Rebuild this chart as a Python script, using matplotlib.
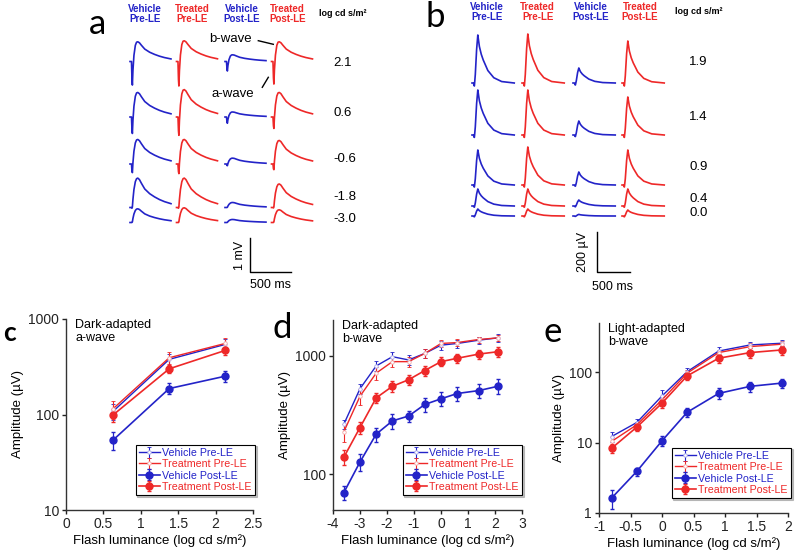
import matplotlib.pyplot as plt
import numpy as np
from matplotlib.ticker import NullLocator

plt.rcParams['font.family'] = ['Liberation Sans', 'DejaVu Sans']

BLUE = '#2323c8'
RED = '#ee2828'

# ---------------- ERG traces (panels a and b) ----------------
groups = ['Vehicle\nPre-LE', 'Treated\nPre-LE', 'Vehicle\nPost-LE', 'Treated\nPost-LE']
group_colors = [BLUE, RED, BLUE, RED]

# panel a, dark-adapted: flash strengths, b-wave peak and a-wave trough (uV) per trace
a_flash = ['2.1', '0.6', '-0.6', '-1.8', '-3.0']
a_peak = [[590, 620, 200, 590],
          [735, 820, 150, 735],
          [735, 735, 175, 705],
          [880, 880, 150, 705],
          [410, 440, 90, 380]]
a_trough = [[735, 765, 295, 705],
            [530, 590, 195, 380],
            [295, 325, 60, 205],
            [30, 30, 0, 20],
            [0, 0, 0, 0]]
# normalised waveform (ms)
a_t = [0, 18, 24, 29, 36, 48, 65, 80, 95, 115, 140, 180, 240, 300, 360, 420, 500]
a_awave = [0, 0, -0.7, -1.0, -0.6, -0.25, -0.05, 0, 0, 0, 0, 0, 0, 0, 0, 0, 0]
a_bwave = [0, 0, 0, 0.05, 0.3, 0.62, 0.88, 0.98, 1.0, 0.95, 0.82, 0.63, 0.47, 0.36, 0.27, 0.2, 0.13]

# panel b, light-adapted
b_flash = ['1.9', '1.4', '0.9', '0.4', '0.0']
b_peak = [[240, 245, 75, 210],
          [225, 225, 70, 190],
          [175, 190, 65, 175],
          [85, 85, 30, 85],
          [35, 35, 8, 30]]
b_trough = [[15, 15, 10, 15],
            [12, 12, 8, 12],
            [10, 10, 6, 10],
            [6, 6, 4, 6],
            [4, 4, 2, 4]]
b_t = [0, 22, 30, 36, 50, 70, 88, 98, 112, 140, 170, 240, 330, 450, 640]
b_awave = [0, 0, -0.8, -1.0, -0.4, 0, 0, 0, 0, 0, 0, 0, 0, 0, 0]
b_bwave = [0, 0, 0, 0, 0.2, 0.7, 1.0, 0.9, 0.76, 0.6, 0.48, 0.26, 0.11, 0.03, 0.0]

# ---------------- intensity-response data (panels c, d, e) ----------------
series = ['Vehicle Pre-LE', 'Treatment Pre-LE', 'Vehicle Post-LE', 'Treatment Post-LE']
series_colors = [BLUE, RED, BLUE, RED]
pre_marker_colors = ['#a8a8ee', '#f4a8a8']

c_x = [0.63, 1.38, 2.13]
c_y = [[108, 378, 542], [115, 393, 555], [54, 187, 252], [99, 301, 469]]
c_err = [[20, 55, 80], [25, 55, 70], [11, 25, 35], [16, 30, 45]]

d_x = [-3.6, -3.0, -2.4, -1.8, -1.2, -0.6, 0, 0.6, 1.4, 2.1]
d_y = [[264, 527, 820, 981, 921, 1045, 1227, 1268, 1352, 1413],
       [228, 455, 713, 891, 891, 1045, 1268, 1291, 1370, 1413],
       [70, 127, 218, 282, 310, 388, 433, 480, 508, 552],
       [139, 248, 441, 552, 627, 750, 891, 951, 1032, 1080]]
d_err = [[25, 50, 80, 90, 90, 90, 100, 100, 90, 100],
         [40, 70, 90, 90, 90, 90, 90, 90, 80, 90],
         [9, 20, 30, 40, 35, 50, 60, 65, 70, 80],
         [20, 30, 45, 55, 60, 70, 80, 90, 90, 100]]

e_x = [-0.8, -0.4, 0, 0.4, 0.9, 1.4, 1.9]
e_y = [[12.2, 19.3, 46, 102, 200, 244, 258],
       [10.4, 17.9, 40.5, 97, 190, 231, 250],
       [1.63, 3.9, 10.6, 27, 50, 63, 70],
       [8.3, 16.6, 36.3, 88.7, 158, 190, 207]]
e_err = [[2, 2.5, 10, 12, 25, 25, 25],
         [1.5, 2, 6, 10, 20, 25, 25],
         [0.5, 0.5, 1.7, 4, 9, 10, 11],
         [1.2, 2, 5, 12, 25, 30, 30]]

fig = plt.figure(figsize=(7.98, 5.53), dpi=100)

# overlay in pixel coordinates for the trace panels and labels
top = fig.add_axes([0, 0, 1, 1])
top.set_xlim(0, 798)
top.set_ylim(553, 0)
top.axis('off')
top.patch.set_visible(False)


def draw_traces(t, sa, sb, troughs, peaks, x0s, y0s, ms_px, uv_px):
    t = np.asarray(t, float)
    sa = np.asarray(sa, float)
    sb = np.asarray(sb, float)
    for r in range(len(y0s)):
        for c in range(4):
            v = troughs[r][c] * sa + peaks[r][c] * sb
            top.plot(x0s[c] + t / ms_px, y0s[r] - v / uv_px,
                     color=group_colors[c], lw=1.2, solid_joinstyle='round')


def headers(xs, y, xlog):
    for x, g, col in zip(xs, groups, group_colors):
        top.text(x, y, g, color=col, fontsize=7, fontweight='bold',
                 ha='center', va='center', linespacing=1.05)
    top.text(xlog, y, 'log cd s/m²', fontsize=6.5, fontweight='bold', ha='center', va='center')


# panel a
a_ms_px, a_uv_px = 12.2, 1000 / 33.4
draw_traces(a_t, a_awave, a_bwave, a_trough, a_peak,
            [130, 176.5, 225, 271.5], [61.5, 117, 164, 207.5, 222.5], a_ms_px, a_uv_px)
headers([145, 192, 241.5, 287.5], 14, 343)
for y, lab in zip([62.7, 113.3, 159.3, 196.7, 219], a_flash):
    top.text(333, y, lab, fontsize=9.5, ha='left', va='center')
top.text(230, 39.5, 'b-wave', fontsize=9.5, ha='center', va='center')
top.plot([258.3, 273.3], [40.7, 44.3], color='k', lw=1)
top.text(233, 94, 'a-wave', fontsize=9.5, ha='center', va='center')
top.plot([262.3, 268.3], [87.3, 77.3], color='k', lw=1)
top.plot([250, 250, 250 + 500 / a_ms_px], [271.7 - 1000 / a_uv_px, 271.7, 271.7], color='k', lw=1)
top.text(240, 255, '1 mV', fontsize=9, rotation=90, ha='center', va='center')
top.text(270.5, 284.5, '500 ms', fontsize=9, ha='center', va='center')
top.text(97, 24, 'a', fontsize=25, family=['Lato', 'DejaVu Sans'], ha='center', va='center')

# panel b
b_ms_px, b_uv_px = 15.15, 5.0
draw_traces(b_t, b_awave, b_bwave, b_trough, b_peak,
            [472, 522, 573, 622], [83, 135, 185, 206, 216], b_ms_px, b_uv_px)
headers([487.3, 537.7, 590.7, 640], 12, 698.3)
for y, lab in zip([62.3, 117.3, 166.7, 198.7, 213.3], b_flash):
    top.text(689.3, y, lab, fontsize=9.5, ha='left', va='center')
top.plot([596.7, 596.7, 596.7 + 500 / b_ms_px], [271.7 - 200 / b_uv_px, 271.7, 271.7], color='k', lw=1)
top.text(583, 251.7, '200 µV', fontsize=9, rotation=90, ha='center', va='center')
top.text(613, 287, '500 ms', fontsize=9, ha='center', va='center')
top.text(435, 17, 'b', fontsize=25, family=['Lato', 'DejaVu Sans'], ha='center', va='center')


def panel(rect, x, ys, errs, xlim, xticks, ylim, yticks, title, leg_anchor):
    ax = fig.add_axes(rect)
    ax.patch.set_visible(False)
    for i, (y, err) in enumerate(zip(ys, errs)):
        col = series_colors[i]
        if i < 2:
            ax.errorbar(x, y, yerr=err, color=col, lw=1.0, elinewidth=0.8, capsize=1.5,
                        marker='o', ms=2.5, mfc='white', mec=pre_marker_colors[i], mew=0.6,
                        ecolor=col, label=series[i])
        else:
            ax.errorbar(x, y, yerr=err, color=col, lw=1.2, elinewidth=0.9, capsize=1.5,
                        marker='o', ms=5, label=series[i])
    ax.set_yscale('log')
    ax.set_xlim(*xlim)
    ax.set_ylim(*ylim)
    ax.set_xticks(xticks)
    ax.set_xticklabels([('%g' % v) for v in xticks])
    ax.set_yticks(yticks)
    ax.set_yticklabels([('%g' % v) for v in yticks])
    ax.yaxis.set_minor_locator(NullLocator())
    for s in ['top', 'right']:
        ax.spines[s].set_visible(False)
    for s in ['left', 'bottom']:
        ax.spines[s].set_color('#333333')
        ax.spines[s].set_linewidth(1.0)
    ax.tick_params(direction='out', length=3, width=1, labelsize=10, colors='#222222', pad=2)
    ax.set_xlabel('Flash luminance (log cd s/m²)', fontsize=9.5, labelpad=2)
    ax.set_ylabel('Amplitude (µV)', fontsize=9.5, labelpad=3)
    ax.text(0.05, 1.0, title, transform=ax.transAxes, fontsize=9, va='top', ha='left',
            linespacing=1.15)
    leg = fig.legend(*ax.get_legend_handles_labels(), loc='lower right',
                     bbox_to_anchor=leg_anchor, fontsize=7.7, frameon=True, fancybox=False,
                     shadow={'color': '0.6', 'alpha': 0.6, 'ox': 1.2, 'oy': -1.2},
                     edgecolor='black', framealpha=1, handlelength=2,
                     handletextpad=0.2, borderpad=0.3, labelspacing=0.12, borderaxespad=0)
    leg.get_frame().set_linewidth(0.8)
    for txt, col in zip(leg.get_texts(), series_colors):
        txt.set_color(col)
    return ax


panel([66 / 798, 43 / 553, 187 / 798, 191 / 553], c_x, c_y, c_err,
      (0, 2.5), [0, 0.5, 1, 1.5, 2, 2.5], (10, 1000), [10, 100, 1000],
      'Dark-adapted\na-wave', (255 / 798, 58 / 553))
panel([333 / 798, 43 / 553, 189 / 798, 190 / 553], d_x, d_y, d_err,
      (-4, 3), [-4, -3, -2, -1, 0, 1, 2, 3], (50, 2000), [100, 1000],
      'Dark-adapted\nb-wave', (522 / 798, 58 / 553))
panel([599 / 798, 40 / 553, 189 / 798, 190 / 553], e_x, e_y, e_err,
      (-1, 2), [-1, -0.5, 0, 0.5, 1, 1.5, 2], (1, 500), [1, 10, 100],
      'Light-adapted\nb-wave', (791 / 798, 55 / 553))

top.text(10, 333, 'c', fontsize=19, fontweight='bold', family=['Lato', 'DejaVu Sans'],
         ha='center', va='center')
top.text(282, 328, 'd', fontsize=25, family=['Lato', 'DejaVu Sans'], ha='center', va='center')
top.text(553, 332, 'e', fontsize=25, family=['Lato', 'DejaVu Sans'], ha='center', va='center')

fig.savefig('out.png', dpi=100)
